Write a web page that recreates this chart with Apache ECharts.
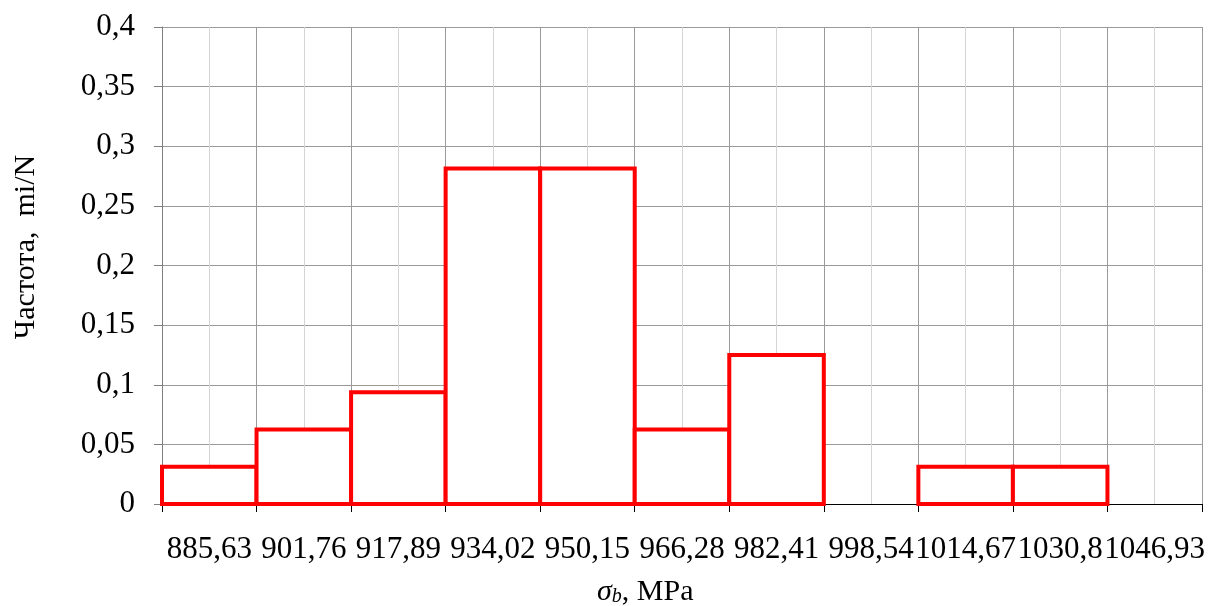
<!DOCTYPE html>
<html>
<head>
<meta charset="utf-8">
<script src="https://cdn.jsdelivr.net/npm/echarts@6/dist/echarts.min.js"></script>
<style>
  html, body { margin: 0; padding: 0; background: #fff; }
  #chart { width: 1209px; height: 606px; }
</style>
</head>
<body>
<div id="chart"></div>
<script>
// Bin labels of the tensile-strength histogram (MPa)
const binLabels = ['885,63', '901,76', '917,89', '934,02', '950,15', '966,28',
                   '982,41', '998,54', '1014,67', '1030,8', '1046,93'];
// Relative frequency mi/N per bin (N = 32)
const freq = [0.03125, 0.0625, 0.09375, 0.28125, 0.28125, 0.0625,
              0.125, 0, 0.03125, 0.03125, 0];
// Y-axis range and step
const yMin = 0, yMax = 0.4, yStep = 0.05;
// Axis titles
const yTitle = 'Частота,  mi/N';
const xTitleSymbol = 'σ', xTitleSub = 'b', xTitleUnit = ', MPa';

const FONT = '"Liberation Serif", "Times New Roman", serif';
const TICK_SIZE = 31;
const NAME_SIZE = 30;

const chart = echarts.init(document.getElementById('chart'), null, { renderer: 'canvas' });

// Histogram bin: a rectangle spanning the whole category, outline centred on its edges
function renderBin(params, api) {
  const idx = api.value(0);
  const v = api.value(1);
  if (!v) return null;
  const top = api.coord([idx, v]);
  const base = api.coord([idx, 0]);
  const w = api.size([1, 0])[0];
  return {
    type: 'rect',
    shape: { x: top[0] - w / 2, y: top[1], width: w, height: base[1] - top[1] },
    style: { fill: '#fff', stroke: '#ff0000', lineWidth: 4, lineJoin: 'miter' }
  };
}

chart.setOption({
  backgroundColor: '#fff',
  animation: false,
  grid: { left: 162, right: 7, top: 27, bottom: 102, containLabel: false },
  graphic: [
    {
      type: 'text',
      x: 26, y: 247,
      rotation: Math.PI / 2,
      style: {
        text: yTitle,
        font: NAME_SIZE + 'px ' + FONT,
        fill: '#000',
        align: 'center',
        verticalAlign: 'middle'
      }
    },
    {
      type: 'text',
      x: 597, y: 573,
      style: {
        text: '{s|' + xTitleSymbol + '}{sub|' + xTitleSub + '}{n|' + xTitleUnit + '}',
        align: 'left',
        verticalAlign: 'top',
        rich: {
          s: { fontFamily: FONT, fontSize: NAME_SIZE, fontStyle: 'italic', fontWeight: 'normal', fill: '#000', verticalAlign: 'bottom', lineHeight: 34 },
          sub: { fontFamily: FONT, fontSize: 20, fontStyle: 'italic', fontWeight: 'normal', fill: '#000', verticalAlign: 'bottom', lineHeight: 16 },
          n: { fontFamily: FONT, fontSize: NAME_SIZE, fontWeight: 'normal', fill: '#000', verticalAlign: 'bottom', lineHeight: 34 }
        }
      }
    }
  ],
  xAxis: [
    {
      type: 'category',
      data: binLabels,
      boundaryGap: true,
      axisLine: { show: true, lineStyle: { color: '#000', width: 1 } },
      axisTick: { show: true, length: 8, lineStyle: { color: '#000' } },
      axisLabel: {
        interval: 0,
        margin: 30,
        fontFamily: FONT,
        fontSize: TICK_SIZE,
        color: '#000'
      },
      splitLine: { show: false }
    },
    {
      // major (bin edges) and minor (bin centres) vertical grid lines
      type: 'value',
      min: 0,
      max: binLabels.length * 2,
      interval: 1,
      position: 'bottom',
      axisLine: { show: false },
      axisTick: { show: false },
      axisLabel: { show: false },
      splitLine: { show: true, lineStyle: { color: ['#9a9a9a', '#d4d4d4'], width: 1 } }
    }
  ],
  yAxis: {
    type: 'value',
    min: yMin,
    max: yMax,
    interval: yStep,
    axisLine: { show: true, lineStyle: { color: '#7f7f7f', width: 1 } },
    axisTick: { show: true, length: 8, lineStyle: { color: '#7f7f7f' } },
    axisLabel: {
      margin: 27,
      fontFamily: FONT,
      fontSize: TICK_SIZE,
      color: '#000',
      formatter: v => String(+v.toFixed(2)).replace('.', ',')
    },
    splitLine: { show: true, lineStyle: { color: '#9a9a9a', width: 1 } }
  },
  series: [{
    type: 'custom',
    xAxisIndex: 0,
    yAxisIndex: 0,
    renderItem: renderBin,
    encode: { x: 0, y: 1 },
    data: freq.map((v, i) => [i, v]),
    z: 5
  }]
});
</script>
</body>
</html>
